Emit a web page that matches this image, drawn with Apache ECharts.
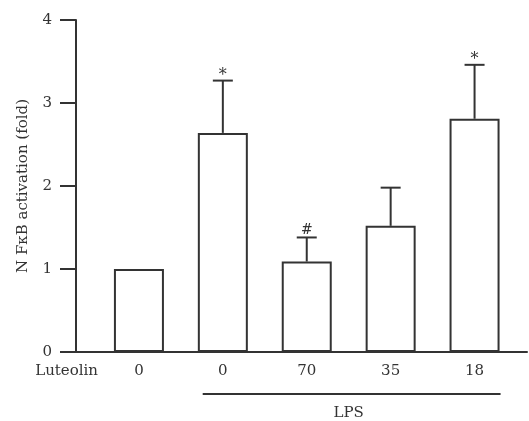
<!DOCTYPE html>
<html>
<head>
<meta charset="utf-8">
<script src="https://cdn.jsdelivr.net/npm/echarts@6/dist/echarts.min.js"></script>
<style>
html,body{margin:0;padding:0;background:#fff;}
#c{width:529px;height:421px;}
</style>
</head>
<body>
<div id="c"></div>
<script>
// ---- data ----
var doseLabels = ["0", "0", "70", "35", "18"];
var meanValues = [1.0, 2.64, 1.09, 1.52, 2.81];
var errorTops = [null, 3.27, 1.38, 1.98, 3.46];
var markers = ["", "*", "#", "", "*"];
var yTicks = [0, 1, 2, 3, 4];
var lpsGroup = [1, 4];

var FONT = "DejaVu Serif";
var INK = "#333";

var barData = meanValues.map(function (v, i) { return [i, v]; });
var errData = [];
errorTops.forEach(function (t, i) {
  if (t !== null) errData.push([i, meanValues[i], t]);
});

var chart = echarts.init(document.getElementById('c'), null, {renderer: 'canvas'});
chart.setOption({
  animation: false,
  backgroundColor: '#fff',
  grid: {left: 76, right: 2, top: 20, bottom: 69, containLabel: false},
  xAxis: {
    type: 'value',
    min: -0.75,
    max: 4.625,
    splitLine: {show: false},
    axisLine: {show: true, onZero: false, lineStyle: {color: INK, width: 2}},
    axisTick: {show: false},
    axisLabel: {
      customValues: [0, 1, 2, 3, 4],
      formatter: function (v) { return doseLabels[Math.round(v)]; },
      margin: 12,
      color: INK,
      fontFamily: FONT,
      fontSize: 15
    },
    name: 'Luteolin',
    nameLocation: 'start',
    nameGap: -22,
    nameTextStyle: {
      color: INK, fontFamily: FONT, fontSize: 15,
      align: 'right', verticalAlign: 'top', padding: [12, 0, 0, 0]
    }
  },
  yAxis: {
    type: 'value',
    min: 0,
    max: 4,
    interval: 1,
    splitLine: {show: false},
    axisLine: {show: true, onZero: false, lineStyle: {color: INK, width: 2}},
    axisTick: {show: true, inside: false, length: 16, lineStyle: {color: INK, width: 2}},
    axisLabel: {
      margin: 24,
      color: INK,
      fontFamily: FONT,
      fontSize: 15,
      formatter: function (v) { return yTicks.indexOf(v) >= 0 ? String(v) : ''; }
    },
    name: 'N FκB activation (fold)',
    nameLocation: 'middle',
    nameGap: 45,
    nameTextStyle: {color: INK, fontFamily: FONT, fontSize: 15}
  },
  series: [
    {
      type: 'bar',
      data: barData,
      barWidth: 50,
      itemStyle: {color: '#fff', borderColor: INK, borderWidth: 2},
      z: 2
    },
    {
      type: 'custom',
      data: errData,
      z: 3,
      renderItem: function (params, api) {
        var x = api.value(0);
        var base = api.coord([x, api.value(1)]);
        var top = api.coord([x, api.value(2)]);
        var mk = markers[Math.round(x)];
        var children = [
          {type: 'line', shape: {x1: base[0], y1: base[1], x2: top[0], y2: top[1]},
           style: {stroke: INK, lineWidth: 2}},
          {type: 'line', shape: {x1: top[0] - 10, y1: top[1], x2: top[0] + 10, y2: top[1]},
           style: {stroke: INK, lineWidth: 2}}
        ];
        if (mk) {
          var isStar = mk === '*';
          children.push({type: 'text', x: top[0], y: top[1] + (isStar ? 3 : 0),
            style: {text: mk, fill: INK, font: (isStar ? 16 : 14) + 'px "' + FONT + '"',
                    align: 'center', verticalAlign: 'bottom'}});
        }
        return {type: 'group', children: children};
      }
    },
    {
      type: 'custom',
      data: [lpsGroup],
      clip: false,
      z: 3,
      renderItem: function (params, api) {
        var a = api.coord([api.value(0) - 0.24, 0]);
        var b = api.coord([api.value(1) + 0.31, 0]);
        var y = a[1] + 42;
        return {type: 'group', children: [
          {type: 'line', shape: {x1: a[0], y1: y, x2: b[0], y2: y}, style: {stroke: INK, lineWidth: 2}},
          {type: 'text', x: (a[0] + b[0]) / 2 - 3, y: y + 19,
           style: {text: 'LPS', fill: INK, font: '15px "' + FONT + '"', align: 'center', verticalAlign: 'middle'}}
        ]};
      }
    }
  ]
});
</script>
</body>
</html>
